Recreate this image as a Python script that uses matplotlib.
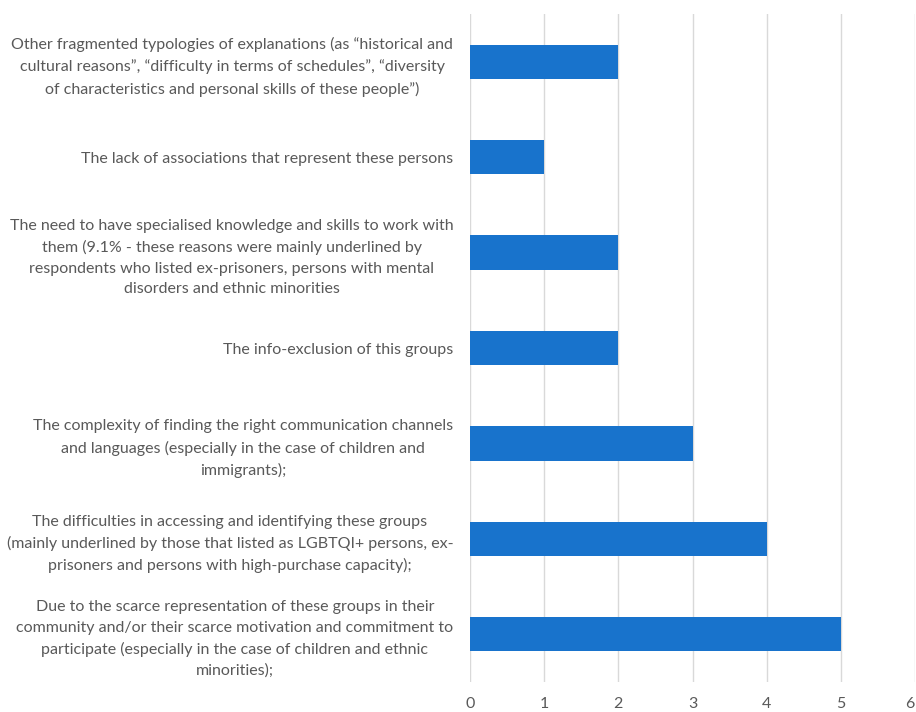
import matplotlib.pyplot as plt

# Reasons, listed from bottom to top as they appear on the chart
reasons = [
    "Due to the scarce representation of these groups in their\n"
    "community and/or their scarce motivation and commitment to\n"
    "participate (especially in the case of children and ethnic\n"
    "minorities);",
    "The difficulties in accessing and identifying these groups\n"
    "(mainly underlined by those that listed as LGBTQI+ persons, ex-\n"
    "prisoners and persons with high-purchase capacity);",
    "The complexity of finding the right communication channels\n"
    "and languages (especially in the case of children and\n"
    "immigrants);",
    "The info-exclusion of this groups",
    "The need to have specialised knowledge and skills to work with\n"
    "them (9.1% - these reasons were mainly underlined by\n"
    "respondents who listed ex-prisoners, persons with mental\n"
    "disorders and ethnic minorities",
    "The lack of associations that represent these persons",
    "Other fragmented typologies of explanations (as \u201chistorical and\n"
    "cultural reasons\u201d, \u201cdifficulty in terms of schedules\u201d, \u201cdiversity\n"
    "of characteristics and personal skills of these people\u201d)",
]
counts = [5, 4, 3, 2, 2, 1, 2]
x_ticks = [0, 1, 2, 3, 4, 5, 6]

plt.rcParams['font.family'] = ['Lato', 'DejaVu Sans']
text_color = '#595959'

fig = plt.figure(figsize=(9.16, 7.12), dpi=100)
ax = fig.add_axes([470 / 916, 30 / 712, 445 / 916, 668 / 712])

pos = list(range(len(reasons)))
ax.barh(pos, counts, height=0.36, color='#1873CC', zorder=2)

ax.set_xlim(0, 6)
ax.set_ylim(-0.5, len(reasons) - 0.5)
ax.set_xticks(x_ticks)
ax.set_yticks(pos)
ax.set_yticklabels(reasons, multialignment='center', linespacing=1.6)

ax.grid(axis='x', color='#D9D9D9', linewidth=1, zorder=0)
for s in ax.spines.values():
    s.set_visible(False)
ax.tick_params(axis='y', length=0, pad=12, labelsize=11.5, labelcolor=text_color)
ax.tick_params(axis='x', length=0, pad=11, labelsize=11.5, labelcolor=text_color)

# last tick label sits at the figure edge: keep it inside
ax.get_xticklabels()[-1].set_ha('right')

fig.savefig('out.png', dpi=100)
